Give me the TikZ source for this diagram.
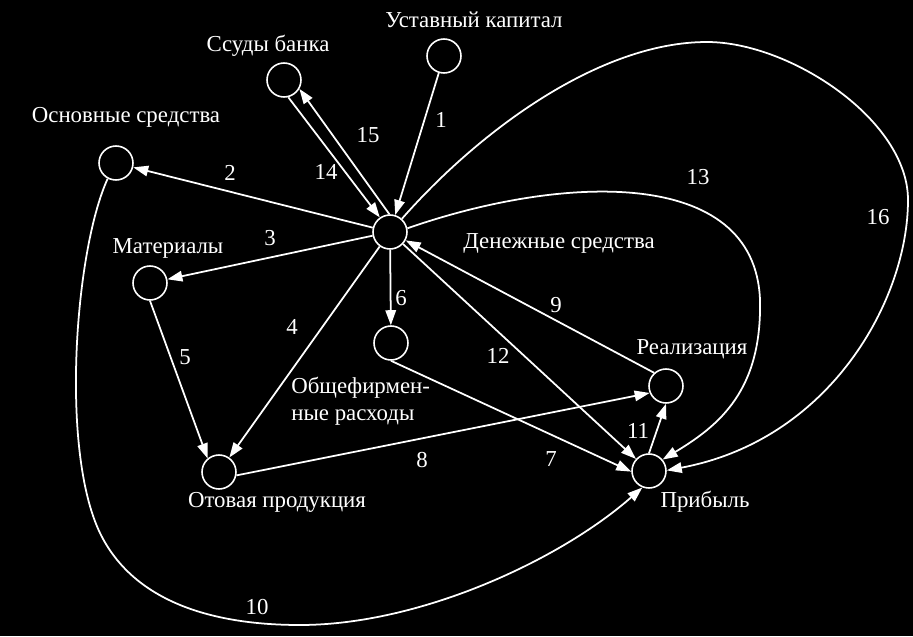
\documentclass[tikz,border=0pt]{standalone}
\usepackage{fontspec}
\setmainfont{Liberation Serif}
\usetikzlibrary{arrows.meta}

\begin{document}
\begin{tikzpicture}[x=0.02cm,y=-0.02cm,
  every node/.style={text=white,inner sep=0pt,font=\fontsize{13}{15.4}\selectfont},
  pt/.style={circle,draw=white,fill=black,line width=0.9pt,minimum size=0.68cm},
  arr/.style={white,line width=1pt,-{Triangle[length=0.3cm,width=0.21cm]}}]
\fill[black] (0,0) rectangle (913,636);
\useasboundingbox (0,0) rectangle (913,636);

\node[pt] (ust) at (444,56) {};
\node[pt] (ssu) at (284,80) {};
\node[pt] (osn) at (116,163) {};
\node[pt] (den) at (390,232) {};
\node[pt] (mat) at (150,283) {};
\node[pt] (obs) at (391,343) {};
\node[pt] (rea) at (666,386) {};
\node[pt] (otv) at (219,472) {};
\node[pt] (pri) at (649,471) {};

\node at (474,20) {Уставный капитал};
\node at (268,46) {Ссуды банка};
\node at (126,117) {Основные средства};
\node at (168,248) {Материалы};
\node at (559,243) {Денежные средства};
\node[align=left,anchor=west] at (291,401) {Общефирмен-\\ные расходы};
\node at (277,502) {Отовая продукция};
\node at (692,349) {Реализация};
\node at (705,502) {Прибыль};

\node at (441,120) {1};
\node at (230,173) {2};
\node at (270,238) {3};
\node at (292,327) {4};
\node at (185,357) {5};
\node at (401,298) {6};
\node at (551,459) {7};
\node at (422,460) {8};
\node at (556,305) {9};
\node at (257,607) {10};
\node at (638,431) {11};
\node at (498,356) {12};
\node at (698,177) {13};
\node at (326,172) {14};
\node at (368,135) {15};
\node at (878,217) {16};

\draw[arr] (ust) -- (den);
\draw[arr] (den) -- (osn);
\draw[arr] (den) -- (mat);
\draw[arr] (den) -- (otv);
\draw[arr] (mat.south) -- (otv.130);
\draw[arr] (den) -- (obs);
\draw[arr] (obs.south) -- (pri.182);
\draw[arr] (otv.-11) -- (rea.-157);
\draw[arr] (rea.132) -- (den);
\draw[arr] (osn.-118) .. controls (75,250) and (60,450) .. (100,533)
  .. controls (130,595) and (200,625) .. (300,625)
  .. controls (420,625) and (560,560) .. (pri.-112);
\draw[arr] (pri.north) -- (rea.south);
\draw[arr] (den) -- (pri);
\draw[arr] (den.12) .. controls (560,175) and (755,165) .. (760,300)
  .. controls (762,390) and (720,425) .. (pri.40);
\draw[arr] (ssu.-76) -- (den.125);
\draw[arr] (den.92) -- (ssu.-30);
\draw[arr] (den.48) .. controls (480,130) and (600,42) .. (707,42)
  .. controls (790,42) and (908,120) .. (908,200)
  .. controls (908,300) and (830,440) .. (pri.2);
\end{tikzpicture}
\end{document}
